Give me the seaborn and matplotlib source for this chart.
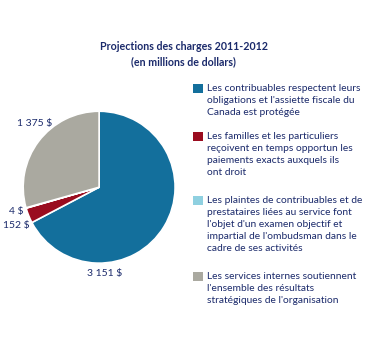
import matplotlib
matplotlib.use('Agg')
import matplotlib.pyplot as plt
from matplotlib.patches import Rectangle
import numpy as np
import seaborn as sns

# data
categories = [
    "Les contribuables respectent leurs\nobligations et l'assiette fiscale du\nCanada est protégée",
    "Les familles et les particuliers\nreçoivent en temps opportun les\npaiements exacts auxquels ils\nont droit",
    "Les plaintes de contribuables et de\nprestataires liées au service font\nl'objet d'un examen objectif et\nimpartial de l'ombudsman dans le\ncadre de ses activités",
    "Les services internes soutiennent\nl'ensemble des résultats\nstratégiques de l'organisation",
]
values = [3151, 152, 4, 1375]
value_labels = ['3 151 $', '152 $', '4 $', '1 375 $']
colors = ['#136f9c', '#9a0c1f', '#8fd0e0', '#aaa9a0']
navy = '#1b2a6b'

sns.set_style('white')
plt.rcParams['font.family'] = ['Lato', 'DejaVu Sans']

fig = plt.figure(figsize=(3.73, 3.6), dpi=100)
ax = fig.add_axes([0.062, 0.269, 0.4075, 0.422])
wedges, _ = ax.pie(values, colors=colors, startangle=90, counterclock=False,
                   wedgeprops=dict(edgecolor='white', linewidth=1.2))
ax.set_xlim(-1, 1)
ax.set_ylim(-1, 1)
ax.set_aspect('equal')

# value labels
label_pos = [(0.07, -1.13, 'center', 'center'),
             (-0.91, -0.51, 'right', 'center'),
             (-1.0, -0.32, 'right', 'center'),
             (-0.62, 0.84, 'right', 'center')]
for txt, (x, y, ha, va) in zip(value_labels, label_pos):
    ax.text(x, y, txt, ha=ha, va=va, fontsize=7.5, color=navy)

fig.text(0.493, 0.85, 'Projections des charges 2011-2012\n(en millions de dollars)',
         ha='center', va='center', fontsize=7.7, fontweight='bold', color=navy,
         linespacing=1.4)

# legend
tops = [0.766, 0.633, 0.455, 0.245]
for top, col, lab in zip(tops, colors, categories):
    fig.add_artist(Rectangle((0.517, top - 0.025), 0.027, 0.025, transform=fig.transFigure,
                             facecolor=col, edgecolor='none'))
    fig.text(0.555, top, lab, ha='left', va='top', fontsize=7.4, color=navy,
             linespacing=1.42)

fig.savefig('out.png', dpi=100)
